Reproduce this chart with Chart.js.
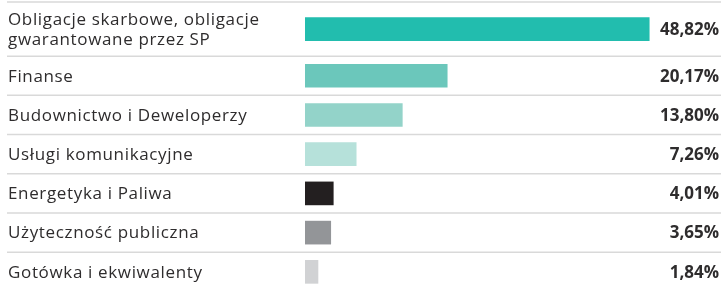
<!DOCTYPE html>
<html>
<head>
<meta charset="utf-8">
<script src="https://cdn.jsdelivr.net/npm/chart.js@4/dist/chart.umd.min.js"></script>
<style>
  html, body { margin: 0; padding: 0; background: #fff; }
  #wrap { width: 721px; height: 284px; position: relative; }
</style>
</head>
<body>
<div id="wrap"><canvas id="chart"></canvas></div>
<script>
const categories = [
    ['Obligacje skarbowe, obligacje', 'gwarantowane przez SP'],
    'Finanse',
    'Budownictwo i Deweloperzy',
    'Usługi komunikacyjne',
    'Energetyka i Paliwa',
    'Użyteczność publiczna',
    'Gotówka i ekwiwalenty'
];
const values = [48.82, 20.17, 13.80, 7.26, 4.01, 3.65, 1.84];
const valueLabels = ['48,82%', '20,17%', '13,80%', '7,26%', '4,01%', '3,65%', '1,84%'];
const colors = ['#22bdae', '#6bc7bb', '#93d3c9', '#b6e1da', '#231f20', '#939598', '#d1d2d4'];

const TEXT_COLOR = '#2e2c2d';
const LABEL_FONT = '17px "Open Sans", sans-serif';
const VALUE_FONT = 'bold 17px "Open Sans", sans-serif';

// rows are taller when the label wraps onto two lines
const rowUnits = categories.map(c => Array.isArray(c) ? 1.38 : 1);
const rowStarts = [];
let acc = 0;
rowUnits.forEach(u => { rowStarts.push(acc); acc += u; });
const centers = rowUnits.map((u, i) => rowStarts[i] + u / 2);
const boundaries = rowStarts.concat([acc]);

const rowPlugin = {
    id: 'rows',
    beforeDatasetsDraw(chart) {
        const ctx = chart.ctx;
        const y = chart.scales.y;
        ctx.save();
        ctx.strokeStyle = '#d9d9d9';
        ctx.lineWidth = 1.5;
        boundaries.forEach(b => {
            const py = y.getPixelForValue(b);
            ctx.beginPath();
            ctx.moveTo(7, py);
            ctx.lineTo(chart.width, py);
            ctx.stroke();
        });
        ctx.restore();
    },
    afterDatasetsDraw(chart) {
        const ctx = chart.ctx;
        const meta = chart.getDatasetMeta(0);
        ctx.save();
        ctx.fillStyle = TEXT_COLOR;
        ctx.textBaseline = 'middle';
        meta.data.forEach((bar, i) => {
            const lines = Array.isArray(categories[i]) ? categories[i] : [categories[i]];
            const lh = 20;
            ctx.font = LABEL_FONT;
            ctx.letterSpacing = '0.65px';
            ctx.textAlign = 'left';
            lines.forEach((line, j) => {
                ctx.fillText(line, 8, bar.y + (j - (lines.length - 1) / 2) * lh + 1);
            });
            ctx.font = VALUE_FONT;
            ctx.letterSpacing = '0px';
            ctx.textAlign = 'right';
            ctx.fillText(valueLabels[i], 719, bar.y + 1);
        });
        ctx.restore();
    }
};

new Chart(document.getElementById('chart'), {
    type: 'bar',
    data: {
        datasets: [{
            data: values.map((v, i) => ({ x: v, y: centers[i] })),
            backgroundColor: colors,
            barThickness: 23,
            borderWidth: 0
        }]
    },
    options: {
        indexAxis: 'y',
        responsive: true,
        maintainAspectRatio: false,
        animation: false,
        layout: { padding: { left: 305, right: 0, top: 2, bottom: 0 } },
        plugins: { legend: { display: false }, tooltip: { enabled: false } },
        scales: {
            x: { type: 'linear', min: 0, max: 59, display: false },
            y: { type: 'linear', min: 0, max: 7.19, reverse: true, offset: false, display: false }
        }
    },
    plugins: [rowPlugin]
});
</script>
</body>
</html>
